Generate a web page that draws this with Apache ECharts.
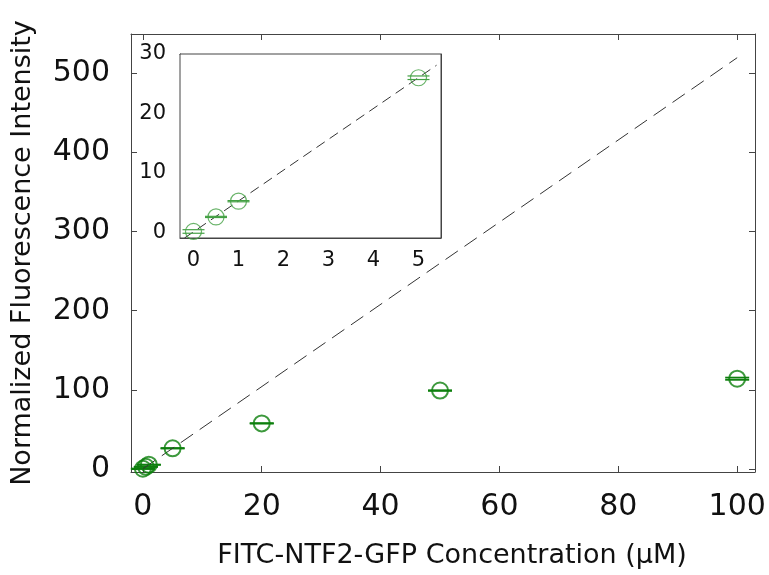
<!DOCTYPE html>
<html>
<head>
<meta charset="utf-8">
<style>
  html, body { margin: 0; padding: 0; background: #fff; }
  #chart { width: 769px; height: 575px; }
</style>
<script src="https://cdn.jsdelivr.net/npm/echarts@6/dist/echarts.min.js"></script>
</head>
<body>
<div id="chart"></div>
<script>
// measured points (concentration in uM, normalized intensity)
const concentrations = [0, 0.5, 1, 5, 20, 50, 100];
const intensities = [0.1, 2.55, 5.2, 26, 57.5, 99, 114];
const intensityErrors = [0.3, 0.1, 0.1, 0.3, 0.3, 0.4, 1.4];

const fitX = [0, 100];
const fitY = [0, 520];
const insetFitX = [-0.2, 5.4];
const insetFitY = [-1, 28.1];

// tick labels
const mainXTicks = [0, 20, 40, 60, 80, 100];
const mainYTicks = [0, 100, 200, 300, 400, 500];
const insetXTicks = [0, 1, 2, 3, 4, 5];
const insetYTicks = [0, 10, 20, 30];
const insetLimit = 5;

const FONT = 'DejaVu Sans';
const FRAME = '#444';
const GREEN = '#0d7f0d';
const INSET_GREEN = '#43a043';

// minor ticks of the inset
const insetXMinor = [];
for (let i = -1; i <= 27; i++) insetXMinor.push(+(i * 0.2).toFixed(1));
const insetYMinor = [];
for (let i = 0; i <= 15; i++) insetYMinor.push(i * 2);

const points = concentrations.map((x, i) => [x, intensities[i], intensityErrors[i]]);
const insetPoints = points.filter(p => p[0] <= insetLimit);

function capRenderer(halfWidth, width, color) {
  return function (params, api) {
    const x = api.value(0);
    const y = api.value(1);
    const e = api.value(2);
    const hi = api.coord([x, y + e]);
    const lo = api.coord([x, y - e]);
    const style = { stroke: color, lineWidth: width };
    return {
      type: 'group',
      children: [
        { type: 'line', shape: { x1: hi[0] - halfWidth, y1: hi[1], x2: hi[0] + halfWidth, y2: hi[1] }, style },
        { type: 'line', shape: { x1: lo[0] - halfWidth, y1: lo[1], x2: lo[0] + halfWidth, y2: lo[1] }, style },
      ],
    };
  };
}

function frameAxis(opts) {
  return Object.assign({
    type: 'value',
    axisLine: { show: true, onZero: false, lineStyle: { color: FRAME, width: 1 } },
    splitLine: { show: false },
    axisTick: { show: true, inside: true, length: 5, lineStyle: { color: FRAME } },
  }, opts);
}

const mainXRange = { min: -2, max: 103 };
const mainYRange = { min: -4, max: 550 };
const insetXRange = { min: -0.3, max: 5.5 };
const insetYRange = { min: -1, max: 30 };

const option = {
  animation: false,
  backgroundColor: '#fff',
  grid: [
    { left: 131, top: 34, right: 14, bottom: 103 },
    { left: 180, top: 54, width: 261, height: 184, show: true, backgroundColor: '#fff', borderColor: FRAME, borderWidth: 1, z: 5 },
  ],
  xAxis: [
    frameAxis(Object.assign({
      gridIndex: 0, position: 'bottom',
      name: 'FITC-NTF2-GFP Concentration (\u03bcM)', nameLocation: 'middle', nameGap: 70,
      nameTextStyle: { fontFamily: FONT, fontSize: 27, color: '#111', padding: [0, 0, 0, 18] },
      axisLabel: { customValues: mainXTicks, fontFamily: FONT, fontSize: 30, color: '#111', margin: 20 },
      axisTick: { show: true, inside: true, length: 6, customValues: mainXTicks, lineStyle: { color: FRAME } },
    }, mainXRange)),
    frameAxis(Object.assign({
      gridIndex: 0, position: 'top',
      axisLabel: { show: false },
      axisTick: { show: true, inside: true, length: 6, customValues: mainXTicks, lineStyle: { color: FRAME } },
    }, mainXRange)),
    frameAxis(Object.assign({
      gridIndex: 1, position: 'bottom',
      axisLabel: { customValues: insetXTicks, fontFamily: FONT, fontSize: 21, color: '#111', margin: 12 },
      axisTick: { show: true, inside: true, length: 3, customValues: insetXMinor, lineStyle: { color: FRAME } },
    }, insetXRange)),
    frameAxis(Object.assign({
      gridIndex: 1, position: 'top',
      axisLabel: { show: false },
      axisTick: { show: true, inside: true, length: 3, customValues: insetXMinor, lineStyle: { color: FRAME } },
    }, insetXRange)),
  ],
  yAxis: [
    frameAxis(Object.assign({
      gridIndex: 0, position: 'left',
      name: 'Normalized Fluorescence Intensity', nameLocation: 'middle', nameGap: 95,
      nameTextStyle: { fontFamily: FONT, fontSize: 27, color: '#111' },
      axisLabel: { customValues: mainYTicks, fontFamily: FONT, fontSize: 30, color: '#111', margin: 21 },
      axisTick: { show: true, inside: true, length: 6, customValues: mainYTicks, lineStyle: { color: FRAME } },
    }, mainYRange)),
    frameAxis(Object.assign({
      gridIndex: 0, position: 'right',
      axisLabel: { show: false },
      axisTick: { show: true, inside: true, length: 6, customValues: mainYTicks, lineStyle: { color: FRAME } },
    }, mainYRange)),
    frameAxis(Object.assign({
      gridIndex: 1, position: 'left',
      axisLabel: { customValues: insetYTicks, fontFamily: FONT, fontSize: 21, color: '#111', margin: 14 },
      axisTick: { show: true, inside: true, length: 3, customValues: insetYMinor, lineStyle: { color: FRAME } },
    }, insetYRange)),
    frameAxis(Object.assign({
      gridIndex: 1, position: 'right',
      axisLabel: { show: false },
      axisTick: { show: true, inside: true, length: 3, customValues: insetYMinor, lineStyle: { color: FRAME } },
    }, insetYRange)),
  ],
  series: [
    {
      type: 'line', xAxisIndex: 0, yAxisIndex: 0,
      data: fitX.map((x, i) => [x, fitY[i]]),
      symbol: 'none', silent: true,
      lineStyle: { color: '#333', width: 1, type: [15, 8] },
    },
    {
      type: 'custom', xAxisIndex: 0, yAxisIndex: 0,
      data: points,
      renderItem: capRenderer(12, 1.8, GREEN),
      z: 3,
    },
    {
      type: 'scatter', xAxisIndex: 0, yAxisIndex: 0,
      data: points.map(p => [p[0], p[1]]),
      symbol: 'circle', symbolSize: 16,
      itemStyle: { color: 'rgba(0,0,0,0)', borderColor: GREEN, borderWidth: 2 },
      z: 4,
    },
    {
      type: 'line', xAxisIndex: 2, yAxisIndex: 2,
      data: insetFitX.map((x, i) => [x, insetFitY[i]]),
      symbol: 'none', silent: true,
      lineStyle: { color: '#333', width: 1, type: [10, 6] },
      z: 6,
    },
    {
      type: 'custom', xAxisIndex: 2, yAxisIndex: 2,
      data: insetPoints,
      renderItem: capRenderer(11, 1.2, INSET_GREEN),
      z: 7,
    },
    {
      type: 'scatter', xAxisIndex: 2, yAxisIndex: 2,
      data: insetPoints.map(p => [p[0], p[1]]),
      symbol: 'circle', symbolSize: 16,
      itemStyle: { color: 'rgba(0,0,0,0)', borderColor: INSET_GREEN, borderWidth: 1.2 },
      z: 8,
    },
  ],
};

const chart = echarts.init(document.getElementById('chart'));
chart.setOption(option);
</script>
</body>
</html>
